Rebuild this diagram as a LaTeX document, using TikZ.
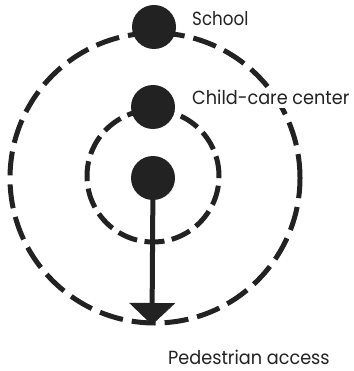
\documentclass[tikz,border=0pt]{standalone}
\usepackage{fontspec}
\setmainfont{Poppins}
\usetikzlibrary{arrows.meta}
\definecolor{ink}{HTML}{222222}
\newcommand{\squeeze}[1]{\scalebox{0.93}[1]{#1}}
\begin{document}
\begin{tikzpicture}[x=1pt,y=-1pt,
  ring/.style={draw=ink,line width=5pt,dash pattern=on 24pt off 9pt},
  dot/.style={circle,fill=ink,minimum size=44pt,inner sep=0pt},
  lbl/.style={anchor=base west,font=\fontsize{19}{22}\selectfont,text=ink,inner sep=0pt}]
\useasboundingbox (0,0) rectangle (353,371);
\coordinate (c) at (155,178);
\draw[ring] (c) circle[radius=145pt];
\draw[ring,dash pattern=on 20pt off 7.5pt] (153,176) circle[radius=66pt];
\node[dot] (school) at (154,27) {};
\node[dot] (care) at (153,107) {};
\node[dot] (home) at (153,178) {};
\coordinate (tip) at (152,325);
\draw[draw=ink,line width=5pt,-{Triangle[width=45pt,length=22pt]}] (home.center) -- (tip);
\node[lbl] (t1) at (192,26) {\scalebox{0.88}[1]{School}};
\node[lbl,fill=white,inner ysep=3pt,inner xsep=1pt] (t2) at (191,105) {\squeeze{Child-care center}};
\node[lbl] (t3) at (168,364) {\squeeze{Pedestrian access}};
\end{tikzpicture}
\end{document}
